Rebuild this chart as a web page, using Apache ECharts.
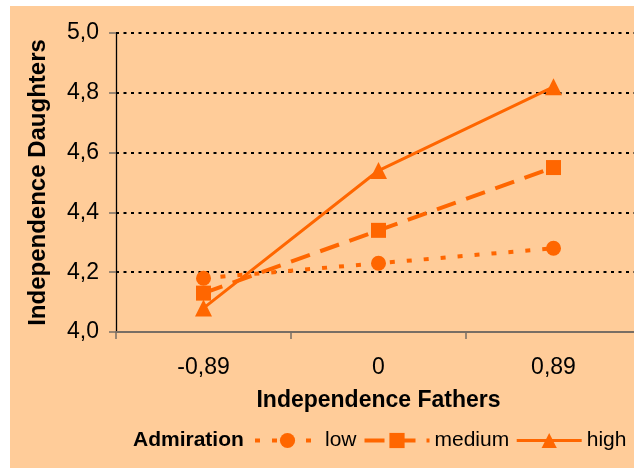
<!DOCTYPE html>
<html>
<head>
<meta charset="utf-8">
<script src="https://cdn.jsdelivr.net/npm/echarts@6/dist/echarts.min.js"></script>
<style>
html, body { margin: 0; padding: 0; background: #fff; }
#chart { width: 634px; height: 468px; }
</style>
</head>
<body>
<div id="chart"></div>
<script>
// Independence Fathers (x categories)
const fathers = ['-0,89', '0', '0,89'];
// Independence Daughters per level of admiration
const low = [4.18, 4.23, 4.28];
const medium = [4.13, 4.34, 4.55];
const high = [4.08, 4.54, 4.82];

const orange = '#FF6600';
const font = 'Liberation Sans, Arial, sans-serif';

const chart = echarts.init(document.getElementById('chart'));

const option = {
    animation: false,
    graphic: [
        {
            type: 'rect',
            z: -100,
            shape: { x: 10, y: 6, width: 624, height: 462 },
            style: { fill: '#FFCC99' }
        },
        {
            type: 'text',
            x: 133,
            y: 440,
            style: {
                text: 'Admiration',
                font: 'bold 21px ' + font,
                fill: '#000',
                verticalAlign: 'middle'
            }
        }
    ],
    grid: {
        left: 116,
        top: 33,
        right: -7,
        bottom: 136,
        outerBoundsMode: 'none'
    },
    legend: {
        left: 253,
        top: 430,
        width: 381,
        padding: 0,
        itemWidth: 65,
        itemHeight: 19,
        itemGap: 6,
        textStyle: { fontSize: 21, color: '#000', fontFamily: font },
        lineStyle: { width: 'inherit', type: 'inherit' },
        data: ['low', 'medium', 'high']
    },
    xAxis: {
        type: 'category',
        data: fathers,
        z: 5,
        name: 'Independence Fathers',
        nameLocation: 'middle',
        nameGap: 57,
        nameTextStyle: { fontSize: 23, fontWeight: 'bold', color: '#000', fontFamily: font },
        axisLine: { lineStyle: { color: '#786e64', width: 2 } },
        axisTick: { show: true, length: 7, lineStyle: { color: '#786e64', width: 1.5 } },
        axisLabel: { fontSize: 23, color: '#000', fontFamily: font, margin: 24 },
        splitLine: { show: false }
    },
    yAxis: {
        type: 'value',
        min: 4.0,
        max: 5.0,
        interval: 0.2,
        name: 'Independence Daughters',
        nameLocation: 'middle',
        nameGap: 66,
        nameTextStyle: { fontSize: 24, fontWeight: 'bold', color: '#000', fontFamily: font },
        axisLine: { show: true, lineStyle: { color: '#000', width: 1.3 } },
        axisTick: { show: true, length: 7, lineStyle: { color: '#786e64', width: 1.5 } },
        axisLabel: {
            fontSize: 23,
            color: '#000',
            fontFamily: font,
            margin: 17,
            formatter: v => v.toFixed(1).replace('.', ',')
        },
        splitLine: { show: true, lineStyle: { color: '#000', width: 2, type: [3, 4.5] } }
    },
    series: [
        {
            name: 'low',
            type: 'line',
            data: low,
            symbol: 'circle',
            symbolSize: 15,
            z: 4,
            itemStyle: { color: orange },
            lineStyle: { color: orange, width: 4, type: [5, 12] }
        },
        {
            name: 'medium',
            type: 'line',
            data: medium,
            symbol: 'rect',
            symbolSize: 15,
            z: 3,
            itemStyle: { color: orange },
            lineStyle: { color: orange, width: 4, type: [20, 11] }
        },
        {
            name: 'high',
            type: 'line',
            data: high,
            symbol: 'triangle',
            symbolSize: 17,
            z: 2,
            itemStyle: { color: orange },
            lineStyle: { color: orange, width: 3, type: 'solid' }
        }
    ]
};

chart.setOption(option);
</script>
</body>
</html>
